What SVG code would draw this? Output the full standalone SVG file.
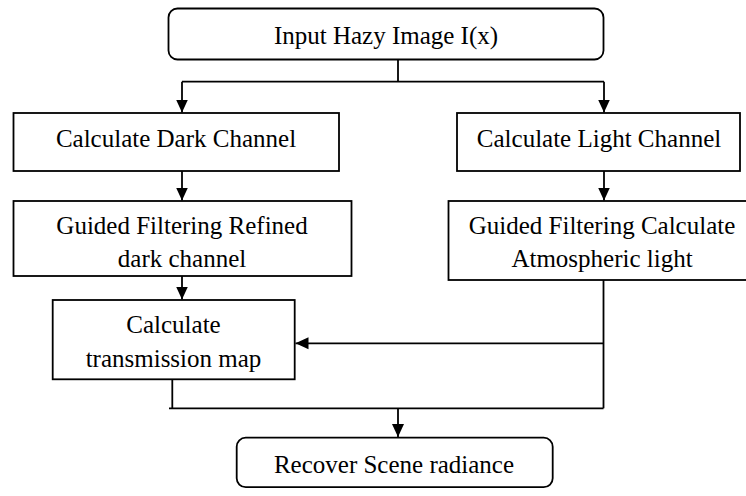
<svg xmlns="http://www.w3.org/2000/svg" width="746" height="496" viewBox="0 0 746 496">
<style>
.box{fill:#fff;stroke:#000;stroke-width:1.8}
.t{font-family:"Liberation Serif","Times New Roman",serif;font-size:25px;fill:#000;text-anchor:middle}
.c{fill:none;stroke:#000;stroke-width:1.8}
</style>
<defs>
<marker id="ah" markerUnits="userSpaceOnUse" markerWidth="14" markerHeight="14" viewBox="0 0 14 14" refX="13" refY="7" orient="auto">
<path d="M0,1 L13,7 L0,13 Z" fill="#000"/>
</marker>
</defs>
<rect width="746" height="496" fill="#fff"/>
<g id="connectors">
<path class="c" d="M398,59 V81.7"/>
<path class="c" d="M182,81.7 H604"/>
<path class="c" d="M182,81.7 V112.5" marker-end="url(#ah)"/>
<path class="c" d="M604,81.7 V112.5" marker-end="url(#ah)"/>
<path class="c" d="M182,171 V200.5" marker-end="url(#ah)"/>
<path class="c" d="M604,171 V200.5" marker-end="url(#ah)"/>
<path class="c" d="M182,276 V299.5" marker-end="url(#ah)"/>
<path class="c" d="M603.5,280 V408.3"/>
<path class="c" d="M603.5,343.3 H295.5" marker-end="url(#ah)"/>
<path class="c" d="M172.3,379.3 V408.3"/>
<path class="c" d="M169,408.3 H603.5"/>
<path class="c" d="M398,408.3 V437" marker-end="url(#ah)"/>
</g>
<g id="input">
<rect class="box" x="168.5" y="8.5" width="435" height="51" rx="9"/>
<text class="t" x="386" y="44">Input Hazy Image I(x)</text>
</g>
<g id="dark">
<rect class="box" x="13.5" y="113" width="325.5" height="58"/>
<text class="t" x="176" y="147">Calculate Dark Channel</text>
</g>
<g id="light">
<rect class="box" x="457" y="113" width="283" height="58"/>
<text class="t" x="599" y="147">Calculate Light Channel</text>
</g>
<g id="refined">
<rect class="box" x="13.5" y="201" width="338" height="75"/>
<text class="t" x="182" y="233.5">Guided Filtering Refined</text>
<text class="t" x="182" y="266.5">dark channel</text>
</g>
<g id="atmos">
<rect class="box" x="448.5" y="201" width="310" height="79"/>
<text class="t" x="602" y="233.5">Guided Filtering Calculate</text>
<text class="t" x="602" y="266.5">Atmospheric light</text>
</g>
<g id="trans">
<rect class="box" x="52.7" y="300" width="242" height="79.3"/>
<text class="t" x="173.5" y="333.3">Calculate</text>
<text class="t" x="173.5" y="366.7">transmission map</text>
</g>
<g id="recover">
<rect class="box" x="236.7" y="437.7" width="316" height="49.5" rx="9"/>
<text class="t" x="394" y="472.5">Recover Scene radiance</text>
</g>
</svg>
